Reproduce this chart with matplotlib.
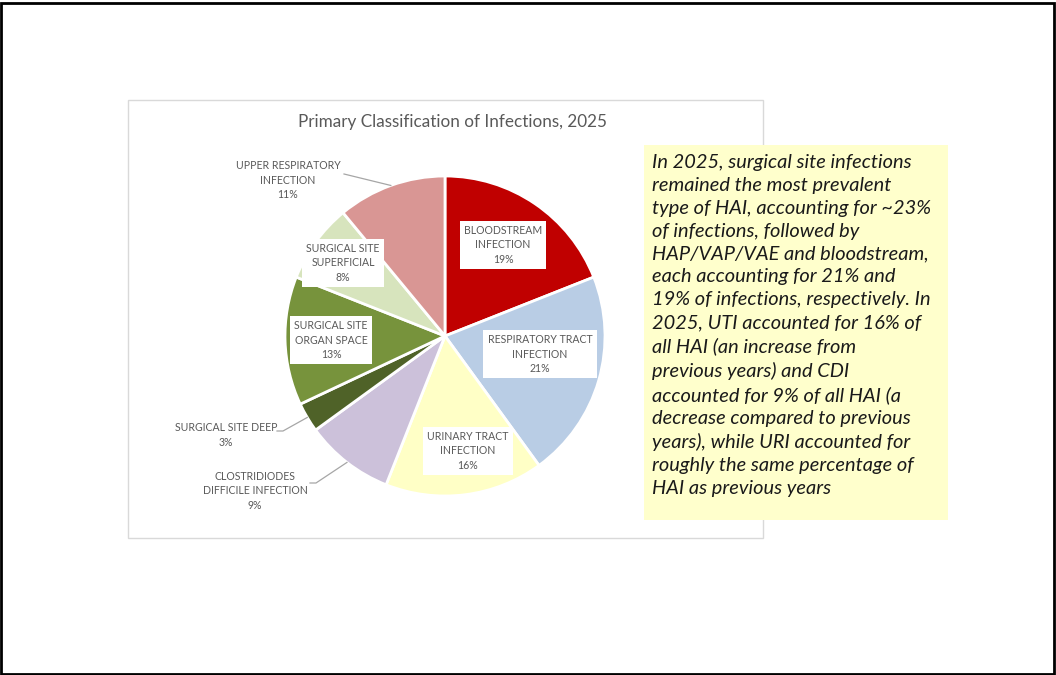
import numpy as np
import matplotlib
matplotlib.use("Agg")
import matplotlib.pyplot as plt
from matplotlib.patches import Rectangle

# ---- data ----
categories = ["BLOODSTREAM\nINFECTION", "RESPIRATORY TRACT\nINFECTION", "URINARY TRACT\nINFECTION",
              "CLOSTRIDIODES\nDIFFICILE INFECTION", "SURGICAL SITE DEEP", "SURGICAL SITE\nORGAN SPACE",
              "SURGICAL SITE\nSUPERFICIAL", "UPPER RESPIRATORY\nINFECTION"]
values = [19, 21, 16, 9, 3, 13, 8, 11]
colors = ["#C00000", "#B9CDE5", "#FFFFC6", "#CCC1DA", "#4F6228", "#77933C", "#D7E4BD", "#D99694"]
title = "Primary Classification of Infections, 2025"
note = ("In 2025, surgical site infections\nremained the most prevalent\ntype of HAI, accounting for ~23%\n"
        "of infections, followed by\nHAP/VAP/VAE and bloodstream,\neach accounting for 21% and\n"
        "19% of infections, respectively. In\n2025, UTI accounted for 16% of\nall HAI (an increase from\n"
        "previous years) and CDI\naccounted for 9% of all HAI (a\ndecrease compared to previous\n"
        "years), while URI accounted for\nroughly the same percentage of\nHAI as previous years")

W, H = 1056, 675
FONT = "Lato"
GRAY = "#595959"

def Y(y):
    return H - y

fig = plt.figure(figsize=(W / 100, H / 100), dpi=100)
fig.patch.set_facecolor("white")
ax = fig.add_axes([0, 0, 1, 1])

# chart frame
ax.add_patch(Rectangle((128, Y(538)), 635, 438, facecolor="white", edgecolor="#D9D9D9", lw=1.0, zorder=0))

cx, cy, R = 445, 336, 160
wedges, _ = ax.pie(values, colors=colors, startangle=90, counterclock=False,
                   center=(cx, Y(cy)), radius=R,
                   wedgeprops=dict(edgecolor="white", linewidth=2.0))
ax.set_xlim(0, W)
ax.set_ylim(0, H)
ax.set_aspect("equal")
ax.axis("off")

ax.text(452, Y(122), title, ha="center", va="center", fontsize=12.3, color=GRAY, family=FONT)

pct = [f"{v}%" for v in values]

# inside labels (with white boxes)
inside = {0: (503, 245), 1: (540, 354), 2: (468, 451), 5: (331, 340), 6: (343, 263)}
for i, (x, y) in inside.items():
    ax.text(x, Y(y), categories[i] + "\n" + pct[i], ha="center", va="center", fontsize=7.6,
            color=GRAY, family=FONT, linespacing=1.36,
            bbox=dict(boxstyle="square,pad=0.4", facecolor="white", edgecolor="none"), zorder=5)

# outside labels with leader lines
outside = {7: ((288, 180), (344, 174), None),
           4: ((226, 435), (283, 431), (277, 431)),
           3: ((255, 491), (316, 483), (310, 483))}
for i, ((x, y), (lx, ly), start) in outside.items():
    ax.text(x, Y(y), categories[i] + "\n" + pct[i], ha="center", va="center", fontsize=7.6,
            color=GRAY, family=FONT, linespacing=1.36, zorder=5)
    w = wedges[i]
    mid = np.deg2rad((w.theta1 + w.theta2) / 2)
    ex, ey = cx + R * np.cos(mid), Y(cy) + R * np.sin(mid)
    xs = [lx, ex]
    ys = [Y(ly), ey]
    if start is not None:
        xs = [start[0]] + xs
        ys = [Y(start[1])] + ys
    ax.plot(xs, ys, color="#A6A6A6", lw=0.9, zorder=4)

# yellow note box
ax.add_patch(Rectangle((644, Y(520)), 304, 375, facecolor="#FFFFCC", edgecolor="none", zorder=6))
ax.text(652, Y(154), note, ha="left", va="top", fontsize=14.4, style="italic", color="#1A1A1A",
        family=FONT, linespacing=1.42, zorder=7)

# slide border
fig.patches.append(Rectangle((1, 1), W - 3, H - 4, transform=None, fill=False,
                             edgecolor="black", lw=2.0))

fig.savefig("out.png", dpi=100)
